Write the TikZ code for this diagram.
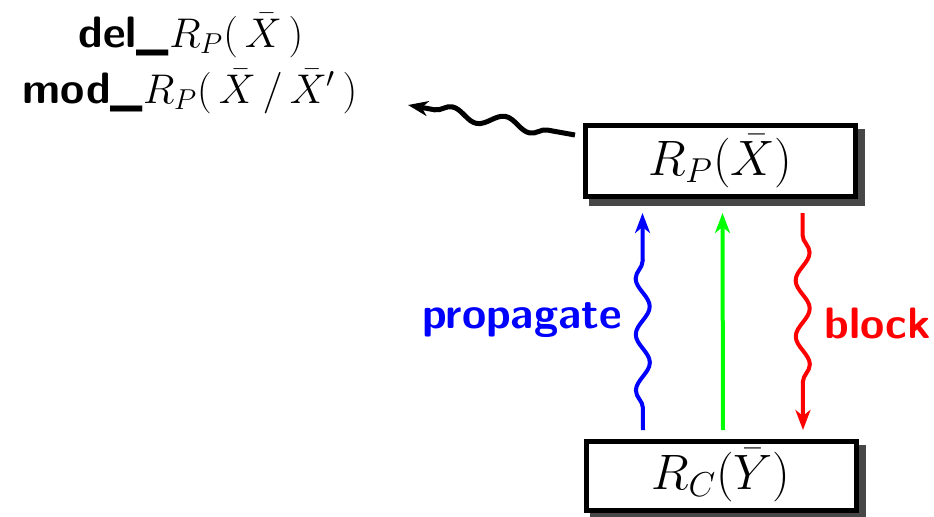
\documentclass[tikz,border=0pt]{standalone}
\usetikzlibrary{arrows.meta,decorations.pathmorphing,backgrounds}
\begin{document}
\begin{tikzpicture}[x=0.5pt,y=-0.5pt,
  box/.style={draw=black,line width=2.5pt,fill=white,minimum width=135pt,inner sep=0pt,font=\fontsize{24}{29}\selectfont},
  wavy/.style={decorate,decoration={snake,segment length=28pt,amplitude=3.5pt,pre length=11pt,post length=12pt}},
  conn/.style={line width=2pt,-{Stealth[length=10pt,width=7.5pt,inset=3pt]}},
  lbl/.style={font=\fontsize{22}{26}\selectfont\sffamily\bfseries},
  ttl/.style={anchor=base,inner sep=0pt,font=\fontsize{22}{26}\selectfont}]
\useasboundingbox (0,0) rectangle (934,516);
\node[box,minimum height=35.5pt] (top) at (720.5,161) {$R_P(\bar{X})$};
\node[box,minimum height=34.5pt] (bot) at (721,475.5) {$R_C(\bar{Y})$};
\begin{scope}[on background layer]
\fill[black!72] ([shift={(6,6)}]top.north west) rectangle ([shift={(7,7)}]top.south east);
\fill[black!72] ([shift={(6,6)}]bot.north west) rectangle ([shift={(7,7)}]bot.south east);
\end{scope}
\node[ttl] (title1) at (191,47) {{\sffamily\bfseries del\_}$R_P(\,\bar{X}\,)$};
\node[ttl] (title2) at (190,103) {{\sffamily\bfseries mod\_}$R_P(\,\bar{X}\,/\,\bar{X}'\,)$};
\coordinate (tipend) at (408,105);
\draw[conn,black,line width=2.5pt,decorate,decoration={snake,segment length=27pt,amplitude=3pt,pre length=14pt,post length=10pt}]
  ([xshift=-4pt,yshift=-6pt]top.north west) -- (tipend);
\draw[conn,blue,wavy] ([xshift=-39pt,yshift=4.25pt]bot.north) -- ([xshift=-39pt,yshift=-7pt]top.south);
\draw[conn,green] ([xshift=1pt,yshift=4.25pt]bot.north) -- ([xshift=1pt,yshift=-7pt]top.south);
\draw[conn,red,wavy] ([xshift=41pt,yshift=-7pt]top.south) -- ([xshift=41pt,yshift=4.25pt]bot.north);
\node[lbl,blue,anchor=base east,inner sep=0pt] (prop) at (622,328) {propagate};
\node[lbl,red,anchor=base west,inner sep=0pt] (blk) at (824,338) {block};
\end{tikzpicture}
\end{document}
